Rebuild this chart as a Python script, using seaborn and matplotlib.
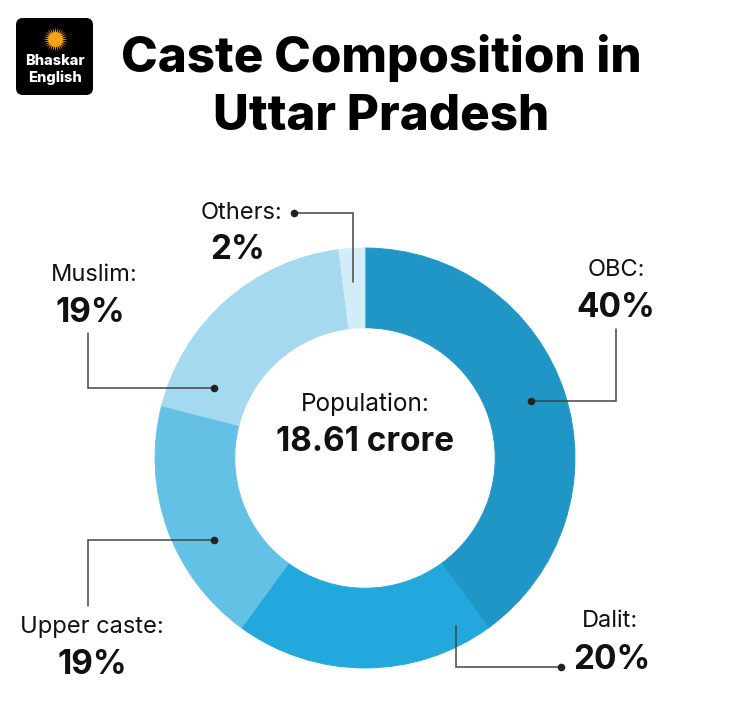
import matplotlib
matplotlib.use("Agg")
import matplotlib.pyplot as plt
import seaborn as sns
from matplotlib.patches import FancyBboxPatch

# ---- data ----
categories = ["OBC", "Dalit", "Upper caste", "Muslim", "Others"]
shares = [40, 20, 19, 19, 2]
pct_labels = ["40%", "20%", "19%", "19%", "2%"]
colors = ["#1f96c5", "#22a8dc", "#64c1e6", "#a4d9ef", "#d2edf8"]
title_lines = ["Caste Composition in", "Uttar Pradesh"]
center_label = "Population:"
center_value = "18.61 crore"

sns.set_theme(style="white")
FONT = ["Inter", "DejaVu Sans"]
plt.rcParams["font.family"] = FONT

W, H = 731, 710
fig = plt.figure(figsize=(W / 100, H / 100), dpi=100)
fig.patch.set_facecolor("white")

# donut axes
cx, cy, R = 365, 458, 210
pie_ax = fig.add_axes([(cx - R) / W, (H - cy - R) / H, 2 * R / W, 2 * R / H])
pie_ax.set_zorder(1)
pie_ax.pie(shares, colors=colors, startangle=90, counterclock=False, radius=1.0,
           wedgeprops=dict(width=0.38, edgecolor="none", linewidth=0, antialiased=True))
for w in pie_ax.patches:
    w.set_edgecolor(w.get_facecolor())
    w.set_linewidth(0.6)
pie_ax.set_xlim(-1, 1)
pie_ax.set_ylim(-1, 1)
pie_ax.set_aspect("equal")
pie_ax.axis("off")

# full-figure overlay in pixel coordinates (y from top)
ov = fig.add_axes([0, 0, 1, 1])
ov.set_zorder(2)
ov.patch.set_alpha(0)
ov.set_xlim(0, W)
ov.set_ylim(H, 0)
ov.axis("off")

# center text
ov.text(cx, 404, center_label, ha="center", va="center", fontsize=17.5, color="#111111")
ov.text(cx, 442, center_value, ha="center", va="center", fontsize=24, fontweight="bold", color="#111111")

# title
ov.text(381, 58, title_lines[0], ha="center", va="center", fontsize=35.5, fontweight="heavy", color="black")
ov.text(381, 116, title_lines[1], ha="center", va="center", fontsize=35.5, fontweight="heavy", color="black")

# logo
logo = FancyBboxPatch((16, 18), 77, 77, boxstyle="round,pad=0,rounding_size=7",
                      facecolor="black", edgecolor="none", transform=ov.transData)
ov.add_patch(logo)
ov.scatter([55], [39], s=330, marker=(28, 1, 0), color="#f7a01a", linewidths=0, zorder=5)
ov.scatter([55], [39], s=110, marker="o", color="#f7a01a", linewidths=0, zorder=6)
ov.text(55, 61, "Bhaskar", ha="center", va="center", fontsize=10.5, fontweight="heavy", color="white")
ov.text(55, 78, "English", ha="center", va="center", fontsize=10.5, fontweight="heavy", color="white")

# labels: (name position, pct position)
label_pos = {
    "OBC": ((616, 270), (616, 308)),
    "Dalit": ((610, 621), (612, 660)),
    "Upper caste": ((92, 627), (92, 665)),
    "Muslim": ((94, 275), (90, 313)),
    "Others": ((242, 213), (238, 250)),
}
for cat, pct in zip(categories, pct_labels):
    (nx, ny), (px, py) = label_pos[cat]
    ov.text(nx, ny, cat + ":", ha="center", va="center", fontsize=17, color="#111111")
    ov.text(px, py, pct, ha="center", va="center", fontsize=24, fontweight="bold", color="#111111")

# leader lines: polyline points, dot index
leaders = {
    "OBC": ([(531, 401), (616, 401), (616, 329)], 0),
    "Dalit": ([(456, 626), (456, 667), (561, 667)], 2),
    "Upper caste": ([(214, 540), (88, 540), (88, 606)], 0),
    "Muslim": ([(214, 388), (88, 388), (88, 333)], 0),
    "Others": ([(294, 213), (353, 213), (353, 282)], 0),
}
for cat in categories:
    pts, di = leaders[cat]
    xs = [p[0] for p in pts]
    ys = [p[1] for p in pts]
    ov.plot(xs, ys, color="#444444", lw=1.1, zorder=7, solid_joinstyle="miter")
    ov.scatter([pts[di][0]], [pts[di][1]], s=30, color="#222222", linewidths=0, zorder=8)

fig.savefig("out.png", dpi=100, facecolor="white")
